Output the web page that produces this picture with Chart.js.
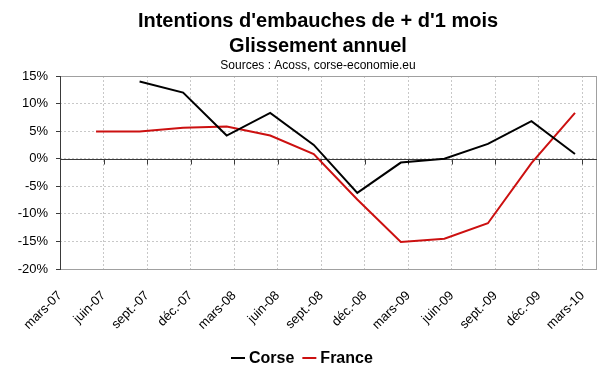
<!DOCTYPE html>
<html>
<head>
<meta charset="utf-8">
<script src="https://cdn.jsdelivr.net/npm/chart.js@4/dist/chart.umd.min.js"></script>
<style>
  html, body { margin: 0; padding: 0; background: #ffffff; }
  #wrap { width: 600px; height: 372px; position: relative; }
</style>
</head>
<body>
<div id="wrap"><canvas id="c" width="600" height="372"></canvas></div>
<script>
// ---- Data ----
const periods = ['2007-05-16','2007-08-16','2007-11-16','2008-02-16','2008-05-16','2008-08-16',
                 '2008-11-16','2009-02-16','2009-05-16','2009-08-16','2009-11-16','2010-02-16'];
const corse  = [null, 14.0, 12.0, 4.2, 8.3, 2.5, -6.2, -0.7, 0.0, 2.7, 6.8, 0.85];
const france = [4.95, 4.95, 5.6, 5.85, 4.2, 0.85, -7.4, -15.1, -14.5, -11.7, -0.8, 8.3];
const tickLabels = ['mars-07','juin-07','sept.-07','déc.-07','mars-08','juin-08','sept.-08',
                    'déc.-08','mars-09','juin-09','sept.-09','déc.-09','mars-10'];
const yTicks = [-20, -15, -10, -5, 0, 5, 10, 15];
const titleLines = ["Intentions d'embauches de + d'1 mois", 'Glissement annuel'];
const subtitleText = 'Sources : Acoss, corse-economie.eu';

// months elapsed since March 2007
function monthIndex(s) {
  const [y, m, d] = s.split('-').map(Number);
  return (y - 2007) * 12 + (m - 3) + (d - 1) / 31;
}
const xs = periods.map(monthIndex);
const toPts = arr => arr.map((v, i) => ({ x: xs[i], y: v }));

const FONT = "'Liberation Sans', Arial, sans-serif";

const framePlugin = {
  id: 'frame',
  beforeDatasetsDraw(chart) {
    const { ctx, chartArea: a, scales } = chart;
    ctx.save();
    ctx.strokeStyle = '#a0a0a0';
    ctx.lineWidth = 1;
    ctx.strokeRect(a.left + 0.5, a.top + 0.5, a.right - a.left - 1, a.bottom - a.top);
    const y0 = Math.round(scales.y.getPixelForValue(0)) + 0.5;
    ctx.strokeStyle = '#3a3a3a';
    ctx.beginPath();
    ctx.moveTo(a.left, y0);
    ctx.lineTo(a.right, y0);
    scales.x.ticks.forEach(t => {
      const x = Math.round(scales.x.getPixelForValue(t.value)) + 0.5;
      ctx.moveTo(x, y0);
      ctx.lineTo(x, y0 + 5);
    });
    ctx.stroke();
    ctx.beginPath();
    ctx.moveTo(a.left + 0.5, a.top);
    ctx.lineTo(a.left + 0.5, a.bottom + 1);
    ctx.stroke();
    ctx.restore();
  },
  afterDraw(chart) {
    const { ctx } = chart;
    ctx.save();
    // titles (centred slightly right of the canvas middle, like the source)
    ctx.fillStyle = '#000';
    ctx.textAlign = 'center';
    ctx.textBaseline = 'alphabetic';
    const tx = 318;
    ctx.font = "bold 20px " + FONT;
    ctx.fillText(titleLines[0], tx, 27);
    ctx.fillText(titleLines[1], tx, 52);
    ctx.font = "12px " + FONT;
    ctx.fillText(subtitleText, tx, 69);

    // legend
    ctx.font = "bold 16px " + FONT;
    ctx.textBaseline = 'middle';
    ctx.textAlign = 'left';
    const cy = 358, lineW = 14, gapIn = 4, gapOut = 8;
    const items = chart.data.datasets.map(ds => ({ ds, w: ctx.measureText(ds.label).width }));
    const total = items.reduce((s, it) => s + lineW + gapIn + it.w, 0) + gapOut * (items.length - 1);
    let x = Math.round(302 - total / 2);
    items.forEach(({ ds, w }) => {
      ctx.strokeStyle = ds.borderColor;
      ctx.lineWidth = 2;
      ctx.beginPath();
      ctx.moveTo(x, cy);
      ctx.lineTo(x + lineW, cy);
      ctx.stroke();
      x += lineW + gapIn;
      ctx.fillStyle = '#000';
      ctx.fillText(ds.label, x, cy + 1);
      x += w + gapOut;
    });
    ctx.restore();
  }
};

new Chart(document.getElementById('c'), {
  type: 'line',
  data: {
    datasets: [
      { label: 'Corse', data: toPts(corse), borderColor: '#000000', backgroundColor: '#000000',
        borderWidth: 2, pointRadius: 0, tension: 0, spanGaps: false },
      { label: 'France', data: toPts(france), borderColor: '#cc1010', backgroundColor: '#cc1010',
        borderWidth: 2, pointRadius: 0, tension: 0 }
    ]
  },
  options: {
    responsive: false,
    animation: false,
    devicePixelRatio: 1,
    layout: { padding: { left: 0, right: 3, top: 76, bottom: 30 } },
    plugins: {
      title: { display: false },
      subtitle: { display: false },
      legend: { display: false },
      tooltip: { enabled: false }
    },
    scales: {
      x: {
        type: 'linear',
        min: 0,
        max: 37,
        afterFit(s) { s.height = 73; s.paddingRight = 0; s.paddingLeft = 0; },
        afterBuildTicks(s) { s.ticks = tickLabels.map((_, i) => ({ value: i * 3 })); },
        ticks: {
          autoSkip: false,
          maxRotation: 45,
          minRotation: 45,
          padding: 19,
          color: '#000',
          font: { family: FONT, size: 13 },
          callback: (v) => tickLabels[Math.round(v / 3)]
        },
        grid: { color: '#c8c8c8', drawTicks: false, lineWidth: 1 },
        border: { display: false, dash: [2, 2] }
      },
      y: {
        min: -20,
        max: 15,
        afterFit(s) { s.width = 60; },
        afterBuildTicks(s) { s.ticks = yTicks.map(v => ({ value: v })); },
        ticks: {
          color: '#000',
          padding: 8,
          font: { family: FONT, size: 13 },
          callback: (v) => v + '%'
        },
        grid: { color: '#c8c8c8', tickColor: '#3a3a3a', tickLength: 4, lineWidth: 1 },
        border: { display: false, dash: [2, 2] }
      }
    }
  },
  plugins: [framePlugin]
});
</script>
</body>
</html>
